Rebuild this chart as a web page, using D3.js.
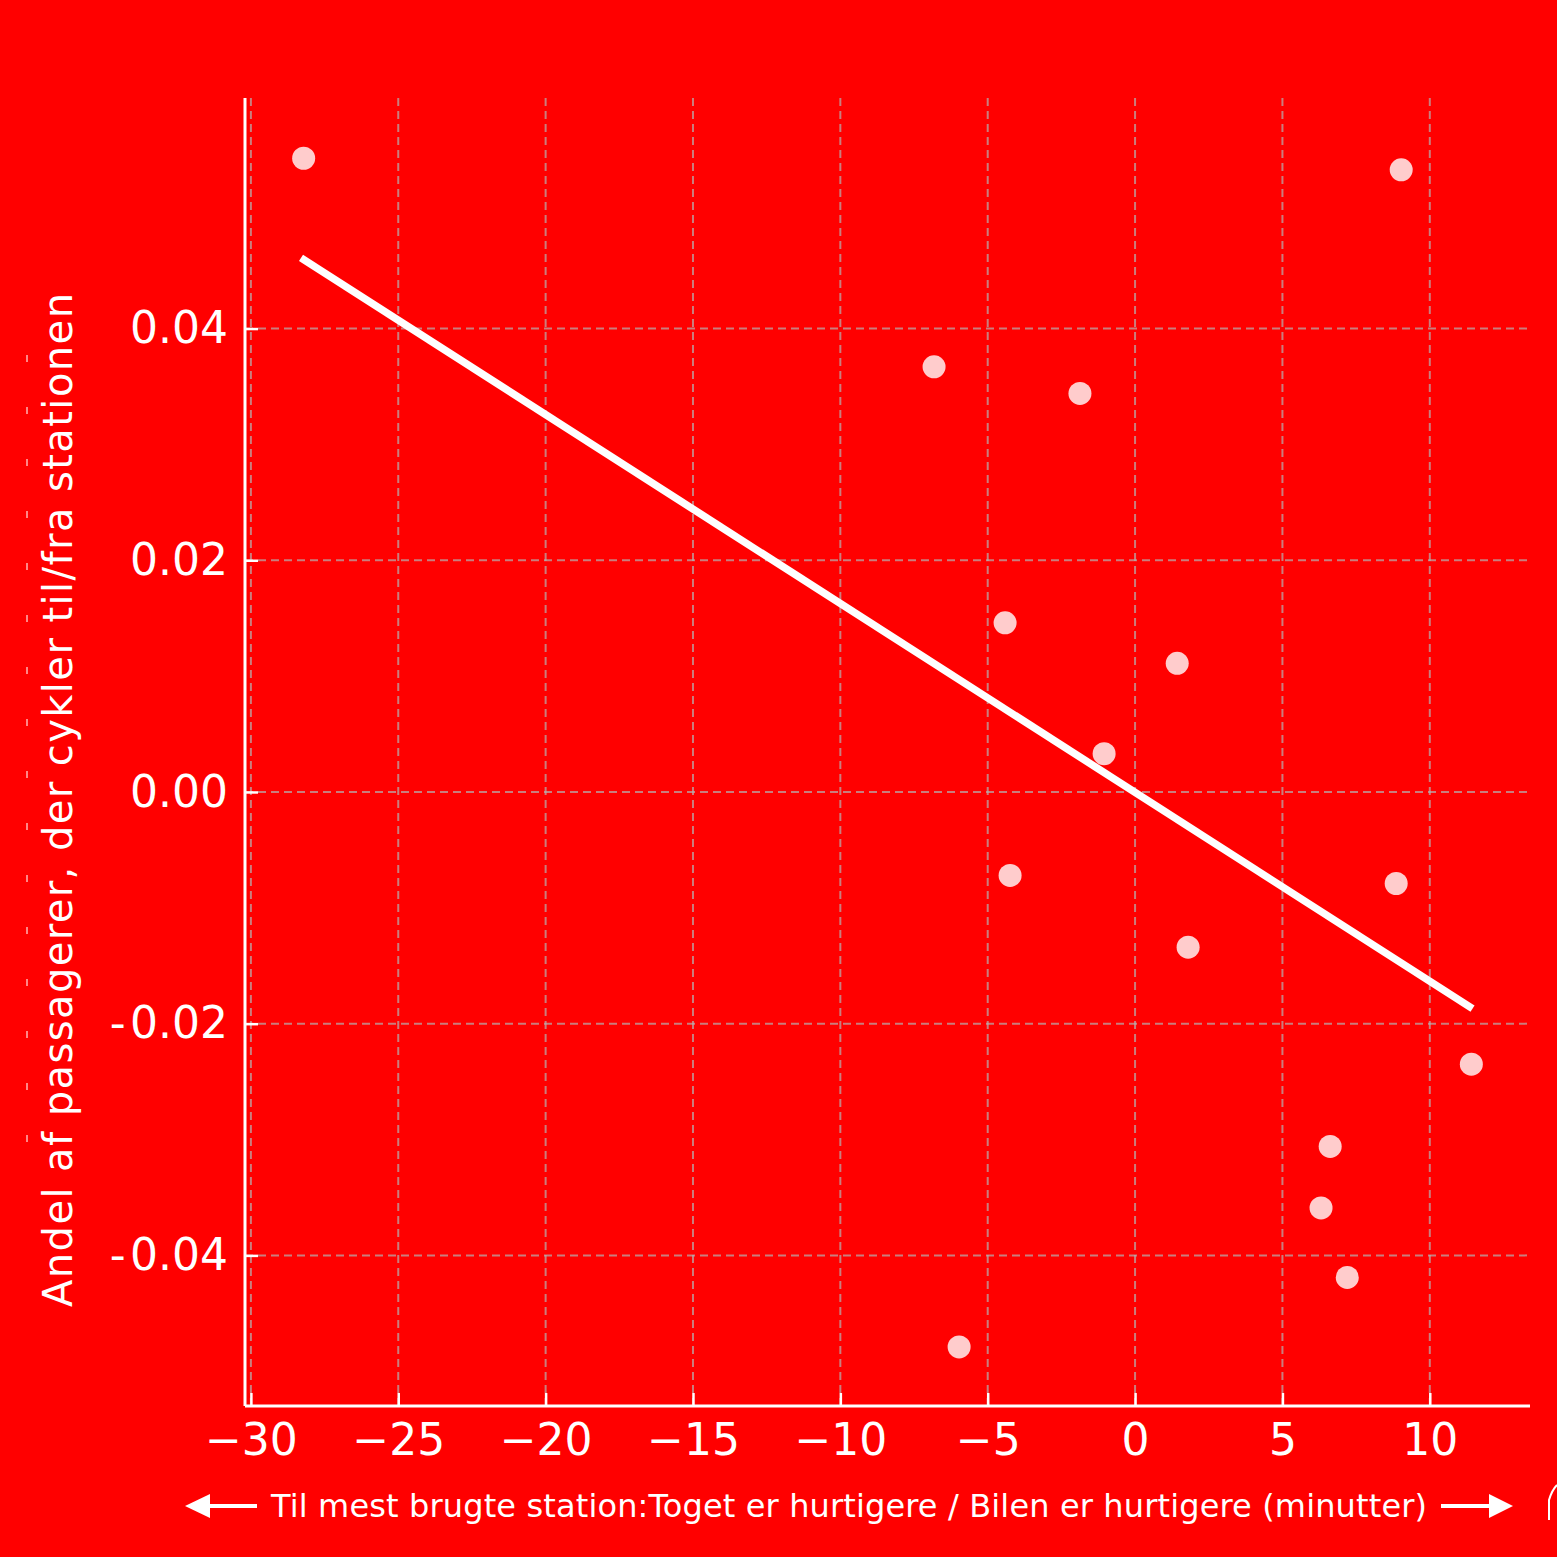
<!DOCTYPE html>
<html>
<head>
<meta charset="utf-8">
<script src="https://cdn.jsdelivr.net/npm/d3@7"></script>
<style>
  html, body { margin: 0; padding: 0; background: #ff0000; }
  text { font-family: "DejaVu Sans", sans-serif; fill: #ffffff; }
</style>
</head>
<body>
<div id="chart"></div>
<script>
// minutes difference (train vs car) for each station
var diffMinutes = [-28.21, 9.03, -6.82, -1.87, -4.41, 1.43, -1.05, -4.24, 8.86, 1.80, 11.41, 6.62, 6.31, 7.20, -5.97];
// residual share of cycling passengers
var bikeShare = [0.0547, 0.0537, 0.0367, 0.0344, 0.0146, 0.0111, 0.0033, -0.0072, -0.0079, -0.0134, -0.0235, -0.0306, -0.0359, -0.0419, -0.0479];

// fitted line end points
var fitX = [-28.3, 11.45];
var fitY = [0.0461, -0.0187];

var xTicks = [-30, -25, -20, -15, -10, -5, 0, 5, 10];
var yTicks = [-0.04, -0.02, 0.00, 0.02, 0.04];

var xLabel = "Til mest brugte station:Toget er hurtigere / Bilen er hurtigere (minutter)";
var yLabel = "Andel af passagerer, der cykler til/fra stationen";

var W = 1557, H = 1557;
var margin = {top: 98, right: 27, bottom: 151, left: 245},
    width = W - margin.left - margin.right,
    height = H - margin.top - margin.bottom;

var svg = d3.select("#chart")
    .append("svg")
    .attr("width", W)
    .attr("height", H);

svg.append("rect")
    .attr("width", W)
    .attr("height", H)
    .attr("fill", "#ff0000");

var g = svg.append("g")
    .attr("transform", "translate(" + margin.left + "," + margin.top + ")");

var x = d3.scaleLinear()
    .domain([-30.2, 13.4])
    .range([0, width]);

var y = d3.scaleLinear()
    .domain([-0.053, 0.0599])
    .range([height, 0]);

// dashed grid
g.append("g")
    .selectAll("line")
    .data(xTicks)
    .enter().append("line")
    .attr("x1", function(d) { return x(d); })
    .attr("x2", function(d) { return x(d); })
    .attr("y1", 0)
    .attr("y2", height)
    .attr("stroke", "#b4b4b4")
    .attr("stroke-opacity", 0.7)
    .attr("stroke-width", 2)
    .attr("stroke-dasharray", "8,5");

g.append("g")
    .selectAll("line")
    .data(yTicks)
    .enter().append("line")
    .attr("x1", 0)
    .attr("x2", width)
    .attr("y1", function(d) { return y(d); })
    .attr("y2", function(d) { return y(d); })
    .attr("stroke", "#b4b4b4")
    .attr("stroke-opacity", 0.7)
    .attr("stroke-width", 2)
    .attr("stroke-dasharray", "8,5");

// axes, ticks pointing inward
var xAxis = g.append("g")
    .attr("transform", "translate(0," + height + ")")
    .call(d3.axisBottom(x).tickValues(xTicks).tickSize(-13).tickPadding(18)
        .tickFormat(function(d) { return d < 0 ? "\u2212" + Math.abs(d) : d; }));

var yAxis = g.append("g")
    .call(d3.axisLeft(y).tickValues(yTicks).tickSize(-13).tickPadding(17)
        .tickFormat(function(d) { return d < 0 ? "-\u200A" + Math.abs(d).toFixed(2) : d.toFixed(2); }));

[xAxis, yAxis].forEach(function(a) {
    a.select(".domain").attr("stroke", "#ffffff").attr("stroke-width", 3);
    a.selectAll(".tick line").attr("stroke", "#ffffff").attr("stroke-width", 2.5);
    a.selectAll("text")
        .attr("fill", "#ffffff")
        .style("font-family", "DejaVu Sans")
        .style("font-size", "44px");
});
// remove outer ticks of the domain paths
xAxis.select(".domain").attr("d", "M0,0H" + width);
yAxis.select(".domain").attr("d", "M0," + height + "V0");
xAxis.selectAll(".tick text").attr("dy", "0.71em");

// points
g.append("g")
    .selectAll("circle")
    .data(diffMinutes)
    .enter().append("circle")
    .attr("cx", function(d) { return x(d); })
    .attr("cy", function(d, i) { return y(bikeShare[i]); })
    .attr("r", 11.5)
    .attr("fill", "#ffcccc");

// regression line
g.append("line")
    .attr("x1", x(fitX[0]))
    .attr("y1", y(fitY[0]))
    .attr("x2", x(fitX[1]))
    .attr("y2", y(fitY[1]))
    .attr("stroke", "#ffffff")
    .attr("stroke-width", 7.5);

// y label
svg.append("text")
    .attr("transform", "translate(72,800) rotate(-90)")
    .attr("text-anchor", "middle")
    .attr("textLength", 1014)
    .attr("lengthAdjust", "spacing")
    .style("font-size", "40px")
    .text(yLabel);

// x label with arrows
svg.append("text")
    .attr("x", 849)
    .attr("y", 1517)
    .attr("text-anchor", "middle")
    .attr("textLength", 1156)
    .attr("lengthAdjust", "spacing")
    .style("font-size", "32px")
    .text(xLabel);

svg.append("line")
    .attr("x1", 210).attr("x2", 257)
    .attr("y1", 1506).attr("y2", 1506)
    .attr("stroke", "#ffffff").attr("stroke-width", 4);
svg.append("path")
    .attr("d", "M185,1506L210,1494L210,1518Z")
    .attr("fill", "#ffffff");
svg.append("line")
    .attr("x1", 1441).attr("x2", 1489)
    .attr("y1", 1506).attr("y2", 1506)
    .attr("stroke", "#ffffff").attr("stroke-width", 4);
svg.append("path")
    .attr("d", "M1513,1506L1489,1494L1489,1518Z")
    .attr("fill", "#ffffff");

// leftover marks at the edges
svg.append("line")
    .attr("x1", 27).attr("x2", 27)
    .attr("y1", 355).attr("y2", 1160)
    .attr("stroke", "#ffffff")
    .attr("stroke-opacity", 0.7)
    .attr("stroke-width", 1.5)
    .attr("stroke-dasharray", "7,45");
svg.append("path")
    .attr("d", "M1549,1520V1500Q1552,1490 1557,1485")
    .attr("fill", "none")
    .attr("stroke", "#ffffff")
    .attr("stroke-width", 2);
</script>
</body>
</html>
